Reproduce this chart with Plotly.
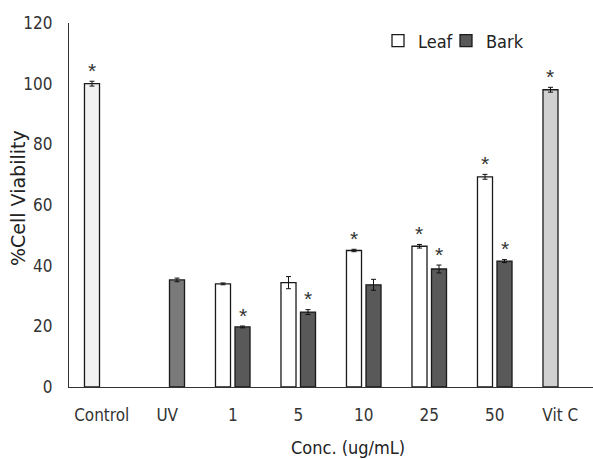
import plotly.graph_objects as go

# Categories along the x axis
categories = ["Control", "UV", "1", "5", "10", "25", "50", "Vit C"]
conc_levels = ["1", "5", "10", "25", "50"]

# Leaf and bark extracts (% cell viability, mean and error)
leaf_mean = [34.0, 34.4, 45.0, 46.4, 69.3]
leaf_err = [0.3, 2.0, 0.4, 0.6, 0.8]
bark_mean = [19.8, 24.7, 33.7, 38.9, 41.5]
bark_err = [0.3, 0.8, 1.8, 1.3, 0.5]

# Reference groups
control_mean, control_err = 100.0, 0.8
uv_mean, uv_err = 35.3, 0.6
vitc_mean, vitc_err = 98.0, 0.8

# Significance marks: (category, series)
significant = [("Control", "leaf"), ("1", "bark"), ("5", "bark"),
               ("10", "leaf"), ("25", "leaf"), ("25", "bark"),
               ("50", "leaf"), ("50", "bark"), ("Vit C", "leaf")]

W, H = 593, 459
ML, MR, MT, MB = 69, 0, 23, 72
BARGAP, GROUPGAP = 0.404, 0.23
PW, PH = W - ML - MR, H - MT - MB

TICK_FONT = "DejaVu Sans Condensed, Liberation Sans Narrow, Liberation Sans"
OUTLINE = dict(color="#1a1a1a", width=1.3)


def err(vals):
    return dict(type="data", array=vals, visible=True, color="#111111",
                thickness=1, width=2.5)


fig = go.Figure()
fig.add_trace(go.Bar(x=conc_levels, y=leaf_mean, name="Leaf", offsetgroup="leaf",
                     legend="legend",
                     marker=dict(color="#ffffff", line=OUTLINE), error_y=err(leaf_err)))
fig.add_trace(go.Bar(x=conc_levels, y=bark_mean, name="Bark", offsetgroup="bark",
                     legend="legend2",
                     marker=dict(color="#595959", line=OUTLINE), error_y=err(bark_err)))
fig.add_trace(go.Bar(x=["Control"], y=[control_mean], offsetgroup="leaf", showlegend=False,
                     marker=dict(color="#f2f2f2", line=OUTLINE), error_y=err([control_err])))
fig.add_trace(go.Bar(x=["UV"], y=[uv_mean], offsetgroup="bark", showlegend=False,
                     marker=dict(color="#7a7a7a", line=OUTLINE), error_y=err([uv_err])))
fig.add_trace(go.Bar(x=["Vit C"], y=[vitc_mean], offsetgroup="leaf", showlegend=False,
                     marker=dict(color="#d0d0d0", line=OUTLINE), error_y=err([vitc_err])))

# Tops of each bar (mean + error) for placing the asterisks
tops = {}
for c, m, e in zip(conc_levels, leaf_mean, leaf_err):
    tops[(c, "leaf")] = m + e
for c, m, e in zip(conc_levels, bark_mean, bark_err):
    tops[(c, "bark")] = m + e
tops[("Control", "leaf")] = control_mean + control_err
tops[("UV", "bark")] = uv_mean + uv_err
tops[("Vit C", "leaf")] = vitc_mean + vitc_err

# Horizontal offset of each slot within a category, in pixels
cat_px = PW / len(categories)
slot_px = cat_px * (1 - BARGAP) / 2
for cat, series in significant:
    shift = -slot_px / 2 if series == "leaf" else slot_px / 2
    fig.add_annotation(x=categories.index(cat), y=tops[(cat, series)], text="*",
                       showarrow=False, xshift=shift, yshift=11, yanchor="middle",
                       font=dict(family="Liberation Sans", size=21, color="#333333"))

# Axis titles
fig.add_annotation(text="Conc. (ug/mL)", xref="paper", yref="paper",
                   x=(348 - ML) / PW, y=-60 / PH,
                   showarrow=False, xanchor="center", yanchor="middle",
                   font=dict(family=TICK_FONT, size=18, color="#222222"))
fig.add_annotation(text="%Cell Viability", xref="paper", yref="paper",
                   x=(18 - ML) / PW, y=(387 - 198) / PH,
                   showarrow=False, textangle=-90, xanchor="center", yanchor="middle",
                   font=dict(family="DejaVu Sans, Liberation Sans", size=19, color="#222222"))

legend_style = dict(orientation="h", xanchor="left", yanchor="middle",
                    y=(387 - 41) / PH, bgcolor="rgba(0,0,0,0)",
                    font=dict(family=TICK_FONT, size=18, color="#222222"),
                    itemwidth=30)

fig.update_layout(
    width=W, height=H,
    margin=dict(l=ML, r=MR, t=MT, b=MB, pad=0),
    paper_bgcolor="white", plot_bgcolor="white",
    barmode="group", bargap=BARGAP, bargroupgap=GROUPGAP,
    showlegend=True,
    legend=dict(x=(378 - ML) / PW, **legend_style),
    legend2=dict(x=(446 - ML) / PW, **legend_style),
    xaxis=dict(categoryorder="array", categoryarray=categories,
               range=[-0.5, len(categories) - 0.5],
               showline=True, linecolor="#333333", linewidth=1.3,
               ticks="", showgrid=False, ticklabelstandoff=12,
               tickfont=dict(family=TICK_FONT, size=17, color="#333333")),
    yaxis=dict(range=[0, 120], dtick=20, tick0=0,
               showline=True, linecolor="#333333", linewidth=1.3,
               ticks="", showgrid=False, zeroline=False, ticklabelstandoff=12,
               tickfont=dict(family=TICK_FONT, size=17, color="#333333")),
)

fig.write_html("out.html")
